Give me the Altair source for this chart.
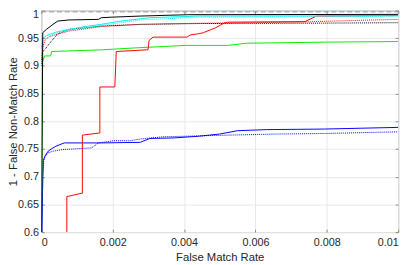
import altair as alt
import pandas as pd

# ---- data (FMR, 1-FNMR) ----
blue_solid_x = [0, 0.0000408, 0.0000543, 0.0001, 0.00019, 0.000326, 0.000408, 0.000644, 0.00168, 0.00277, 0.00304, 0.00372, 0.0044, 0.005, 0.00549, 0.0063, 0.00793, 0.00929, 0.01]
blue_solid_y = [0.55, 0.70, 0.729, 0.737, 0.746, 0.752, 0.755, 0.761, 0.761, 0.762, 0.769, 0.770, 0.773, 0.777, 0.783, 0.785, 0.786, 0.788, 0.789]

blue_dot_x = [0, 0.0000408, 0.000068, 0.000109, 0.00019, 0.000326, 0.000598, 0.00141, 0.0016, 0.00204, 0.0025, 0.00277, 0.0034, 0.00522, 0.00658, 0.00793, 0.01]
blue_dot_y = [0.55, 0.70, 0.729, 0.737, 0.743, 0.746, 0.749, 0.752, 0.761, 0.765, 0.765, 0.768, 0.772, 0.775, 0.777, 0.778, 0.781]

green_x = [0, 0.0000353, 0.0000897, 0.000264, 0.000285, 0.00168, 0.00277, 0.00345, 0.004, 0.00522, 0.00576, 0.00802, 0.01]
green_y = [0.55, 0.908, 0.918, 0.918, 0.926, 0.929, 0.933, 0.935, 0.937, 0.937, 0.941, 0.943, 0.944]

red_solid_x = [0.000715, 0.000715, 0.00112, 0.00115, 0.00115, 0.00164, 0.00164, 0.00206, 0.0021, 0.00295, 0.00299, 0.00302, 0.00313, 0.00408, 0.00418, 0.0044, 0.00454, 0.00473, 0.00489, 0.005, 0.00511, 0.00522, 0.00739, 0.00771, 0.01]
red_solid_y = [0.55, 0.664, 0.670, 0.670, 0.775, 0.779, 0.862, 0.862, 0.926, 0.929, 0.929, 0.946, 0.952, 0.952, 0.956, 0.958, 0.960, 0.965, 0.969, 0.973, 0.977, 0.979, 0.980, 0.990, 0.991]

red_dot_x = [0, 0.000035, 0.0001, 0.000198, 0.000326, 0.00078, 0.00168, 0.00277, 0.0044, 0.00712, 0.00875, 0.01]
red_dot_y = [0.91, 0.932, 0.946, 0.952, 0.955, 0.963, 0.971, 0.975, 0.977, 0.979, 0.982, 0.984]

black_dot_x = [0, 0.00003, 0.000128, 0.000272, 0.000462, 0.00078, 0.00168, 0.00277, 0.0044, 0.00712, 0.01]
black_dot_y = [0.90, 0.925, 0.932, 0.944, 0.958, 0.966, 0.972, 0.975, 0.9765, 0.977, 0.978]

cyan_dot_x = [0, 0.00004, 0.000326, 0.00087, 0.00168, 0.00277, 0.0044, 0.01]
cyan_dot_y = [0.93, 0.946, 0.957, 0.965, 0.973, 0.983, 0.988, 0.990]

cyan_solid_x = [0, 0.000035, 0.000144, 0.000416, 0.00078, 0.00123, 0.00168, 0.00223, 0.00277, 0.00304, 0.0044, 0.01]
cyan_solid_y = [0.93, 0.949, 0.955, 0.961, 0.966, 0.971, 0.975, 0.981, 0.985, 0.987, 0.990, 0.9905]

black_solid_x = [0, 0.00004, 0.000144, 0.000326, 0.000462, 0.00078, 0.0016, 0.00168, 0.00196, 0.00277, 0.00413, 0.01]
black_solid_y = [0.55, 0.96, 0.966, 0.975, 0.981, 0.983, 0.984, 0.987, 0.988, 0.990, 0.9925, 0.993]

ref_x = [0, 0.01]
ref_y = [0.9975, 0.9975]

x_ticks = [0, 0.002, 0.004, 0.006, 0.008, 0.01]
y_ticks = [0.6, 0.65, 0.7, 0.75, 0.8, 0.85, 0.9, 0.95, 1.0]

series = [
    (ref_x, ref_y, "#9a9a9a", [5, 3]),
    (blue_dot_x, blue_dot_y, "#0000ff", [1, 1]),
    (blue_solid_x, blue_solid_y, "#0000ff", None),
    (green_x, green_y, "#00ee00", None),
    (red_dot_x, red_dot_y, "#ff0000", [1, 1]),
    (black_dot_x, black_dot_y, "#000000", [1, 1]),
    (red_solid_x, red_solid_y, "#ff0000", None),
    (cyan_dot_x, cyan_dot_y, "#00eeee", [1, 1]),
    (cyan_solid_x, cyan_solid_y, "#00eeee", None),
    (black_solid_x, black_solid_y, "#000000", None),
]

W, H = 364, 226
FRAME = "#8a8a8a"

xscale = alt.Scale(domain=[0, 0.01], nice=False)
yscale = alt.Scale(domain=[0.6, 1.0], nice=False)

main_x = alt.Axis(values=x_ticks, format="~g", title="False Match Rate", orient="bottom",
                  grid=True, ticks=False, domain=False, labelPadding=5,
                  titleBaseline="alphabetic", titleY=28.5, titleX=W / 2,
                  titleAlign="center")
main_y = alt.Axis(values=y_ticks, format="~g", title="1 - False Non-Match Rate", orient="left",
                  grid=True, ticks=False, domain=False, labelPadding=3,
                  labelOffset={"condition": {"test": "datum.value >= 0.999", "value": 4}, "value": 0},
                  titleBaseline="alphabetic", titleAngle=270, titleX=-25,
                  titleY=H / 2, titleAlign="center")


def tick_axis(vals, orient, offset):
    return alt.Axis(values=vals, orient=orient, offset=offset, labels=False, title=None,
                    grid=False, domain=False, ticks=True, tickSize=3,
                    tickColor=FRAME, tickWidth=1)


axes_for_layer = {
    0: (main_x, main_y),
    1: (tick_axis(x_ticks, "top", -H), tick_axis(y_ticks, "right", -W)),
    2: (tick_axis(x_ticks, "bottom", -H), tick_axis(y_ticks, "left", -W)),
}

layers = []
for i, (xs, ys, col, dash) in enumerate(series):
    df = pd.DataFrame({"fmr": xs, "tar": ys, "o": list(range(len(xs)))})
    kw = dict(color=col, strokeWidth=1, clip=True)
    if dash:
        kw["strokeDash"] = dash
    ax, ay = axes_for_layer.get(i, (None, None))
    enc = dict(
        x=alt.X("fmr:Q", scale=xscale, axis=ax),
        y=alt.Y("tar:Q", scale=yscale, axis=ay),
        order="o:Q",
    )
    layers.append(alt.Chart(df).mark_line(**kw).encode(**enc))

chart = alt.layer(*layers).resolve_axis(
    x="independent", y="independent"
).properties(
    width=W, height=H,
    autosize=alt.AutoSizeParams(type="none"),
    padding={"left": 34, "top": 0, "right": 9, "bottom": 31},
).configure_view(
    stroke=FRAME, strokeWidth=1
).configure_axis(
    labelFont="Liberation Sans", titleFont="Liberation Sans",
    labelFontSize=11, titleFontSize=11.5, titleFontWeight="normal",
    labelColor="#262626", titleColor="#262626",
    gridColor="#e8e8e8", gridWidth=1,
)

chart.save("out.html", embed_options={"renderer": "svg", "actions": False})
